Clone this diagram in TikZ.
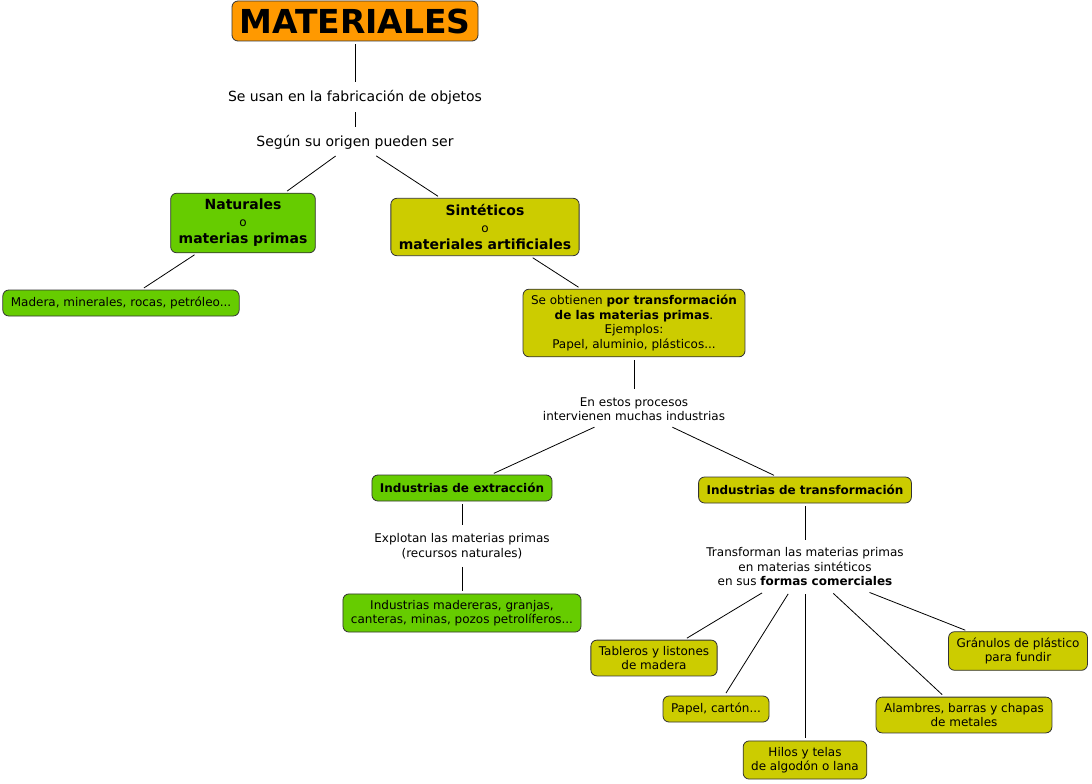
\documentclass[tikz,border=0pt]{standalone}
\usepackage{fontspec}
\setmainfont{DejaVu Sans}
\definecolor{naranja}{HTML}{FF9900}
\definecolor{verdeC}{HTML}{66CC00}
\definecolor{amarilloC}{HTML}{CCCC00}
\tikzset{
  caja/.style={draw=black!80, rounded corners=6pt, line width=0.8pt, align=center,
    inner xsep=8pt, inner ysep=6pt, minimum height=26pt, font=\fontsize{12}{14.5}\selectfont},
  verde/.style={caja, fill=verdeC},
  amarillo/.style={caja, fill=amarilloC},
  titulo/.style={font=\fontsize{14}{17}\selectfont\bfseries},
  frase/.style={align=center, inner sep=5pt, font=\fontsize{12}{14.5}\selectfont},
  enlace/.style={draw=black, line width=0.8pt, shorten >=3pt, shorten <=3pt}
}
\begin{document}
\begin{tikzpicture}[x=1pt,y=-1pt]
  \useasboundingbox (0,0) rectangle (1092,784);
  \fill[white] (0,0) rectangle (1092,784);
  % conceptos
  \node[caja, fill=naranja, minimum width=246pt, minimum height=40pt, inner sep=0pt,
    font=\fontsize{33}{34}\selectfont\bfseries] (mat) at (355,21) {MATERIALES};
  \node[frase, font=\fontsize{14}{17}\selectfont] (uso) at (355,97) {Se usan en la fabricación de objetos};
  \node[frase, font=\fontsize{14}{17}\selectfont] (orig) at (355,142) {Según su origen pueden ser};
  \node[verde, titulo] (nat) at (243,223) {Naturales\\{\mdseries\fontsize{12}{17}\selectfont o}\\materias primas};
  \node[amarillo, titulo] (sint) at (485,227) {Sintéticos\\{\mdseries\fontsize{12}{17}\selectfont o}\\materiales artificiales};
  \node[verde] (mad) at (121,303) {Madera, minerales, rocas, petróleo...};
  \node[amarillo] (obt) at (634,323) {Se obtienen \textbf{por transformación}\\\textbf{de las materias primas}.\\Ejemplos:\\Papel, aluminio, plásticos...};
  \node[frase] (proc) at (634,409) {En estos procesos\\intervienen muchas industrias};
  \node[verde, font=\fontsize{12}{14.5}\selectfont\bfseries] (ext) at (462,488) {Industrias de extracción};
  \node[amarillo, font=\fontsize{12}{14.5}\selectfont\bfseries] (trans) at (805,490) {Industrias de transformación};
  \node[frase] (expl) at (462,546) {Explotan las materias primas\\(recursos naturales)};
  \node[verde] (indm) at (462,613) {Industrias madereras, granjas,\\canteras, minas, pozos petrolíferos...};
  \node[frase] (tforma) at (805,567) {Transforman las materias primas\\en materias sintéticos\\en sus \textbf{formas comerciales}};
  \node[amarillo] (tab) at (654,658) {Tableros y listones\\de madera};
  \node[amarillo] (pap) at (716,709) {Papel, cartón...};
  \node[amarillo] (hil) at (805,760) {Hilos y telas\\de algodón o lana};
  \node[amarillo] (ala) at (964,715) {Alambres, barras y chapas\\de metales};
  \node[amarillo] (gra) at (1018,651) {Gránulos de plástico\\para fundir};
  % enlaces
  \draw[enlace] (mat) -- (uso);
  \draw[enlace] (uso) -- (orig);
  \draw[enlace] (orig) -- (nat);
  \draw[enlace] (orig) -- (sint);
  \draw[enlace] (nat) -- (mad);
  \draw[enlace] (sint) -- (obt);
  \draw[enlace] (obt) -- (proc);
  \draw[enlace] (proc) -- (ext);
  \draw[enlace] (proc) -- (trans);
  \draw[enlace] (ext) -- (expl);
  \draw[enlace] (expl) -- (indm);
  \draw[enlace] (trans) -- (tforma);
  \foreach \f in {tab, pap, hil, ala, gra}
    \draw[enlace] (tforma) -- (\f);
\end{tikzpicture}
\end{document}
